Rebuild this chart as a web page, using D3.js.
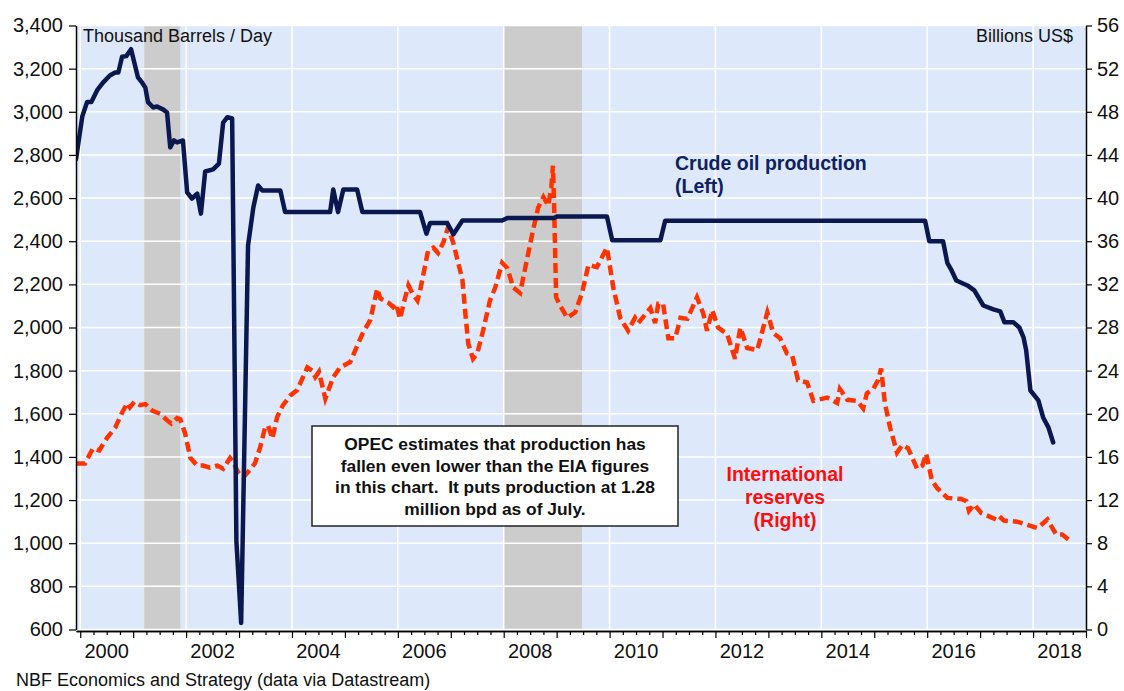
<!DOCTYPE html>
<html>
<head>
<meta charset="utf-8">
<script src="https://cdn.jsdelivr.net/npm/d3@7"></script>
<style>
  body { margin: 0; background: #fff; }
  svg text { font-family: "Liberation Sans", Arial, sans-serif; }
</style>
</head>
<body>
<div id="chart"></div>
<script>
const w = 1124;
const h = 691;

// crude oil production, thousand barrels/day (left axis) - dates as decimal years
const crudeDates = [1999.92, 2000.04, 2000.13, 2000.21, 2000.32, 2000.43, 2000.56, 2000.66, 2000.72, 2000.79,
  2000.87, 2000.96, 2001.09, 2001.17, 2001.23, 2001.28, 2001.38, 2001.45, 2001.57, 2001.64,
  2001.70, 2001.77, 2001.83, 2001.94, 2002.02, 2002.11, 2002.21, 2002.28, 2002.36, 2002.51,
  2002.62, 2002.70, 2002.78, 2002.87, 2002.95, 2003.04, 2003.17, 2003.27, 2003.36, 2003.44,
  2003.78, 2003.87, 2004.72, 2004.78, 2004.87, 2004.97, 2005.23, 2005.33, 2006.42, 2006.54,
  2006.61, 2006.93, 2007.05, 2007.22, 2007.97, 2008.07, 2008.95, 2009.01, 2009.95, 2010.05,
  2010.96, 2011.05, 2015.96, 2016.04, 2016.30, 2016.38, 2016.45, 2016.55, 2016.76, 2016.89,
  2017.06, 2017.25, 2017.38, 2017.46, 2017.63, 2017.74, 2017.82, 2017.87, 2017.95, 2018.10,
  2018.19, 2018.29, 2018.38];
const crudeValues = [2780, 2980, 3045, 3045, 3100, 3135, 3168, 3182, 3182, 3255,
  3258, 3290, 3160, 3135, 3112, 3045, 3020, 3025, 3010, 2997,
  2835, 2867, 2858, 2867, 2626, 2598, 2621, 2528, 2723, 2733,
  2760, 2950, 2975, 2969, 1010, 630, 2380, 2556, 2658, 2635,
  2635, 2535, 2535, 2640, 2535, 2640, 2640, 2535, 2535, 2435,
  2485, 2485, 2432, 2496, 2496, 2508, 2508, 2515, 2515, 2405,
  2405, 2495, 2495, 2400, 2400, 2300, 2270, 2218, 2195, 2172,
  2102, 2084, 2075, 2024, 2024, 2000, 1954, 1894, 1708, 1662,
  1583, 1537, 1467];

// international reserves, billions US$ (right axis)
const reservesDates = [1999.92, 2000.09, 2000.24, 2000.36, 2000.51, 2000.66, 2000.79, 2000.89, 2000.94, 2001.02,
  2001.13, 2001.23, 2001.36, 2001.51, 2001.64, 2001.72, 2001.83, 2001.89, 2001.98, 2002.08,
  2002.21, 2002.32, 2002.45, 2002.59, 2002.70, 2002.83, 2002.89, 2002.98, 2003.08, 2003.17,
  2003.30, 2003.40, 2003.49, 2003.55, 2003.63, 2003.72, 2003.83, 2003.97, 2004.10, 2004.29,
  2004.38, 2004.44, 2004.51, 2004.63, 2004.78, 2004.91, 2005.10, 2005.33, 2005.48, 2005.61,
  2005.67, 2005.82, 2005.91, 2005.97, 2006.04, 2006.14, 2006.20, 2006.27, 2006.37, 2006.42,
  2006.57, 2006.67, 2006.76, 2006.86, 2006.95, 2007.05, 2007.22, 2007.27, 2007.33, 2007.42,
  2007.50, 2007.61, 2007.74, 2007.84, 2007.97, 2008.07, 2008.18, 2008.31, 2008.41, 2008.54,
  2008.65, 2008.75, 2008.84, 2008.90, 2008.93, 2008.95, 2008.99, 2009.07, 2009.20, 2009.35,
  2009.48, 2009.60, 2009.76, 2009.95, 2010.07, 2010.20, 2010.35, 2010.48, 2010.54, 2010.77,
  2010.86, 2010.92, 2011.01, 2011.11, 2011.24, 2011.34, 2011.47, 2011.65, 2011.77, 2011.84,
  2011.94, 2012.05, 2012.22, 2012.37, 2012.47, 2012.60, 2012.79, 2012.98, 2013.09, 2013.22,
  2013.35, 2013.45, 2013.56, 2013.73, 2013.85, 2014.11, 2014.30, 2014.35, 2014.49, 2014.68,
  2014.79, 2014.86, 2014.98, 2015.07, 2015.13, 2015.20, 2015.30, 2015.43, 2015.53, 2015.64,
  2015.81, 2015.91, 2015.98, 2016.09, 2016.19, 2016.38, 2016.64, 2016.74, 2016.79, 2016.89,
  2017.02, 2017.21, 2017.30, 2017.36, 2017.45, 2017.70, 2017.83, 2018.08, 2018.27, 2018.34,
  2018.44, 2018.55, 2018.68];
const reservesValues = [15.4, 15.4, 16.8, 16.6, 17.8, 18.7, 20.1, 21.0, 20.6, 21.1,
  20.8, 20.9, 20.3, 20.0, 19.4, 19.1, 19.6, 19.5, 18.2, 15.9,
  15.2, 15.2, 15.0, 15.2, 14.9, 15.9, 15.5, 14.6, 14.1, 14.6,
  15.4, 16.9, 18.7, 18.9, 17.7, 19.7, 20.8, 21.7, 22.2, 24.3,
  24.0, 23.4, 23.9, 21.4, 23.4, 24.3, 24.8, 27.4, 28.7, 31.6,
  30.7, 30.3, 29.9, 30.2, 28.8, 30.8, 31.9, 31.2, 30.5, 31.4,
  35.1, 35.4, 34.9, 35.9, 37.3, 35.8, 32.4, 29.6, 26.5, 25.1,
  25.6, 27.7, 30.5, 31.7, 34.0, 33.5, 31.7, 31.2, 33.6, 36.7,
  39.1, 40.1, 39.3, 41.0, 43.0, 39.8, 30.8, 30.0, 28.9, 29.4,
  31.2, 33.8, 33.6, 35.4, 31.7, 28.9, 27.7, 28.9, 28.4, 29.8,
  28.4, 30.2, 30.2, 27.0, 27.0, 28.9, 28.8, 30.8, 29.3, 27.7,
  29.6, 28.0, 27.4, 25.1, 28.0, 26.1, 25.9, 29.4, 27.5, 27.0,
  25.6, 25.4, 23.1, 22.9, 21.2, 21.5, 21.0, 22.3, 21.3, 21.2,
  20.5, 21.9, 22.3, 23.1, 24.2, 21.0, 18.7, 16.4, 17.1, 16.8,
  14.9, 15.2, 16.3, 13.8, 13.1, 12.2, 12.1, 11.9, 11.0, 11.6,
  10.8, 10.4, 10.2, 10.5, 10.1, 10.0, 9.8, 9.4, 10.2, 9.6,
  8.8, 8.8, 8.3];

// US recessions (shaded)
const recessions = [[2001.21, 2001.89], [2007.99, 2009.48]];

const leftTicks = d3.range(600, 3401, 200);
const rightTicks = d3.range(0, 57, 4);
const yearLabels = d3.range(2000, 2019, 2);

const plot = {left: 76, right: 1086, top: 25.5, bottom: 629.5};

const svg = d3.select("#chart").append("svg").attr("width", w).attr("height", h);

const x = d3.scaleLinear().domain([1999.92, 2019.0]).range([plot.left, plot.right]);
const yL = d3.scaleLinear().domain([600, 3400]).range([plot.bottom, plot.top]);
const yR = d3.scaleLinear().domain([0, 56]).range([plot.bottom, plot.top]);

//plot background
svg.append("rect")
    .attr("x", plot.left).attr("y", plot.top)
    .attr("width", plot.right - plot.left).attr("height", plot.bottom - plot.top)
    .style("fill", "#dde9fb");

//recession bars
svg.selectAll(".recession")
    .data(recessions)
    .enter().append("rect")
        .attr("class", "recession")
        .attr("x", d => x(d[0]))
        .attr("y", plot.top)
        .attr("width", d => x(d[1]) - x(d[0]))
        .attr("height", plot.bottom - plot.top)
        .style("fill", "#cccccc");

//gridlines
svg.selectAll(".hgrid")
    .data(leftTicks)
    .enter().append("line")
        .attr("x1", plot.left).attr("x2", plot.right)
        .attr("y1", d => yL(d)).attr("y2", d => yL(d))
        .style("stroke", "#fff").style("stroke-width", 1.5);

svg.selectAll(".vgrid")
    .data(yearLabels)
    .enter().append("line")
        .attr("x1", d => x(d)).attr("x2", d => x(d))
        .attr("y1", plot.top).attr("y2", plot.bottom)
        .style("stroke", "#fff").style("stroke-width", 1.5);

svg.append("defs").append("clipPath").attr("id", "clip")
    .append("rect")
    .attr("x", plot.left).attr("y", plot.top - 5)
    .attr("width", plot.right - plot.left).attr("height", plot.bottom - plot.top + 10);

//lines
const crudeLine = d3.line().x(d => x(d[0])).y(d => yL(d[1]));
const reservesLine = d3.line().x(d => x(d[0])).y(d => yR(d[1]));

svg.append("path")
    .datum(d3.zip(reservesDates, reservesValues))
    .attr("clip-path", "url(#clip)")
    .attr("d", reservesLine)
    .style("fill", "none")
    .style("stroke", "#ff3300")
    .style("stroke-width", 4.5)
    .style("stroke-dasharray", "10,5");

svg.append("path")
    .datum(d3.zip(crudeDates, crudeValues))
    .attr("clip-path", "url(#clip)")
    .attr("d", crudeLine)
    .style("fill", "none")
    .style("stroke", "#0b1850")
    .style("stroke-width", 4.5)
    .style("stroke-linejoin", "round")
    .style("stroke-linecap", "round");

//axes
const fmt = d3.format(",");

const leftAxis = svg.append("g")
    .attr("transform", "translate(" + plot.left + ",0)")
    .call(d3.axisLeft(yL).tickValues(leftTicks).tickFormat(fmt).tickSize(7).tickPadding(6).tickSizeOuter(0));

const rightAxis = svg.append("g")
    .attr("transform", "translate(" + plot.right + ",0)")
    .call(d3.axisRight(yR).tickValues(rightTicks).tickSize(6).tickPadding(5).tickSizeOuter(0));

const quarters = d3.range(2000, 2019.01, 0.25);
svg.append("g")
    .attr("transform", "translate(0," + (plot.bottom + 1.5) + ")")
    .call(d3.axisBottom(x).tickValues(quarters.filter(q => q % 1 !== 0)).tickSize(4).tickFormat("").tickSizeOuter(0));

const xAxis = svg.append("g")
    .attr("transform", "translate(0," + (plot.bottom + 1.5) + ")")
    .call(d3.axisBottom(x).tickValues(d3.range(2000, 2020)).tickSize(7).tickFormat("").tickSizeOuter(0));

svg.selectAll(".year-label")
    .data(yearLabels)
    .enter().append("text")
        .attr("class", "year-label")
        .attr("x", d => x(d + 0.5))
        .attr("y", 658)
        .attr("text-anchor", "middle")
        .style("font-size", "20px")
        .style("fill", "#111")
        .text(d => d);

svg.selectAll(".domain").style("stroke", "#000").style("stroke-width", 1.5);
svg.selectAll(".tick line").style("stroke", "#000").style("stroke-width", 1.2);
leftAxis.selectAll("text").style("font-size", "20px").style("fill", "#111");
rightAxis.selectAll("text").style("font-size", "20px").style("fill", "#111");

//unit labels
svg.append("text")
    .attr("x", 83).attr("y", 42)
    .style("font-size", "18px").style("fill", "#111")
    .text("Thousand Barrels / Day");

svg.append("text")
    .attr("x", 1073).attr("y", 42)
    .attr("text-anchor", "end")
    .style("font-size", "18px").style("fill", "#111")
    .text("Billions US$");

//series labels
const crudeLabel = svg.append("text")
    .style("font-size", "19.5px").style("font-weight", "bold").style("fill", "#0f2160");
crudeLabel.append("tspan").attr("x", 675).attr("y", 170).text("Crude oil production");
crudeLabel.append("tspan").attr("x", 675).attr("y", 193).text("(Left)");

const resLabel = svg.append("text")
    .attr("text-anchor", "middle")
    .style("font-size", "19.5px").style("font-weight", "bold").style("fill", "#ff0d0d");
["International", "reserves", "(Right)"].forEach((t, i) => {
    resLabel.append("tspan").attr("x", 785).attr("y", 481 + i * 23).text(t);
});

//annotation box
svg.append("rect")
    .attr("x", 312).attr("y", 426)
    .attr("width", 366).attr("height", 100)
    .style("fill", "#fff")
    .style("stroke", "#222")
    .style("stroke-width", 1.5);

const note = svg.append("text")
    .attr("text-anchor", "middle")
    .style("font-size", "17.4px").style("font-weight", "bold").style("fill", "#111")
    .attr("xml:space", "preserve");
["OPEC estimates that production has",
 "fallen even lower than the EIA figures",
 "in this chart.  It puts production at 1.28",
 "million bpd as of July."].forEach((t, i) => {
    note.append("tspan").attr("x", 495).attr("y", 450 + i * 21.7).text(t);
});

//source
svg.append("text")
    .attr("x", 16).attr("y", 686)
    .style("font-size", "18px").style("fill", "#111")
    .text("NBF Economics and Strategy (data via Datastream)");
</script>
</body>
</html>
